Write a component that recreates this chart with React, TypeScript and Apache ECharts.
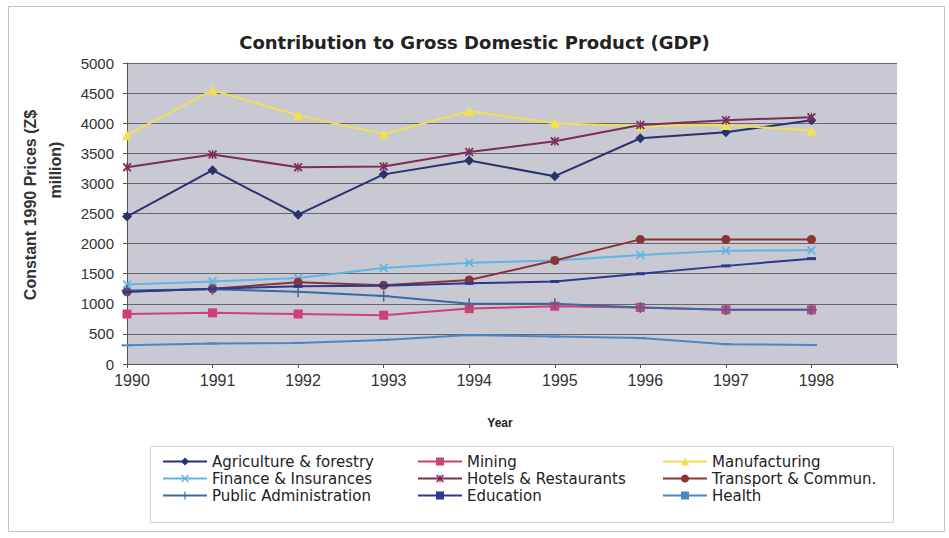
import React, { useEffect, useRef } from "react";
import * as echarts from "echarts";

// Years on the horizontal axis
const years = [1990, 1991, 1992, 1993, 1994, 1995, 1996, 1997, 1998];

// Sector contributions, constant 1990 prices (Z$ million)
const agriculture = [2450, 3220, 2480, 3150, 3380, 3120, 3750, 3850, 4050];
const mining = [830, 850, 830, 810, 920, 960, 940, 900, 900];
const manufacturing = [3800, 4550, 4130, 3820, 4200, 4000, 3950, 3970, 3880];
const finance = [1320, 1370, 1430, 1595, 1680, 1720, 1810, 1880, 1890];
const hotels = [3270, 3480, 3270, 3280, 3520, 3700, 3970, 4050, 4100];
const transport = [1200, 1250, 1360, 1310, 1395, 1720, 2070, 2070, 2070];
const publicAdmin = [1220, 1240, 1200, 1130, 1000, 1000, 940, 900, 900];
const education = [1200, 1250, 1290, 1300, 1340, 1370, 1500, 1630, 1750];
const health = [310, 340, 350, 400, 480, 455, 430, 330, 315];

const yTicks = [0, 500, 1000, 1500, 2000, 2500, 3000, 3500, 4000, 4500, 5000];

const FONT = "'Liberation Sans', Arial, sans-serif";
const WIDE_FONT = "'DejaVu Sans', 'Liberation Sans', sans-serif";

const X_SYMBOL =
  "path://M0,1.4L1.4,0L5,3.6L8.6,0L10,1.4L6.4,5L10,8.6L8.6,10L5,6.4L1.4,10L0,8.6L3.6,5Z";
const STAR_SYMBOL =
  "path://M0,1.4L1.4,0L5,3.6L8.6,0L10,1.4L6.4,5L10,8.6L8.6,10L5,6.4L1.4,10L0,8.6L3.6,5Z M4.3,0L5.7,0L5.7,10L4.3,10Z";
const PLUS_SYMBOL =
  "path://M4.3,0L5.7,0L5.7,4.3L10,4.3L10,5.7L5.7,5.7L5.7,10L4.3,10L4.3,5.7L0,5.7L0,4.3L4.3,4.3Z";

type SeriesDef = {
  name: string;
  values: number[];
  color: string;
  symbol: string;
  symbolSize: number | number[];
};

const seriesDefs: SeriesDef[] = [
  { name: "Agriculture & forestry", values: agriculture, color: "#27336f", symbol: "diamond", symbolSize: 10 },
  { name: "Mining", values: mining, color: "#cf4175", symbol: "rect", symbolSize: 9 },
  { name: "Manufacturing", values: manufacturing, color: "#f0e052", symbol: "triangle", symbolSize: 10 },
  { name: "Finance & Insurances", values: finance, color: "#62b4e6", symbol: X_SYMBOL, symbolSize: 9 },
  { name: "Hotels & Restaurants", values: hotels, color: "#7c2c58", symbol: STAR_SYMBOL, symbolSize: 9 },
  { name: "Transport & Commun.", values: transport, color: "#8b3434", symbol: "circle", symbolSize: 9 },
  { name: "Public Administration", values: publicAdmin, color: "#3c6aa0", symbol: PLUS_SYMBOL, symbolSize: 11 },
  { name: "Education", values: education, color: "#2b3a8e", symbol: "rect", symbolSize: [9, 3] },
  { name: "Health", values: health, color: "#4a86c4", symbol: "rect", symbolSize: [11, 2] },
];

const legendColumns = [
  ["Agriculture & forestry", "Finance & Insurances", "Public Administration"],
  ["Mining", "Hotels & Restaurants", "Education"],
  ["Manufacturing", "Transport & Commun.", "Health"],
];
const legendLefts = [157, 412, 657];

export default function App() {
  const ref = useRef<HTMLDivElement>(null);

  useEffect(() => {
    if (!ref.current) return;
    const chart = echarts.init(ref.current, null, { renderer: "svg" });

    const option = {
      animation: false,
      backgroundColor: "#ffffff",
      title: {
        text: "Contribution to Gross Domestic Product (GDP)",
        left: "center",
        top: 28,
        textStyle: { fontFamily: WIDE_FONT, fontSize: 18, fontWeight: "bold", color: "#222" },
      },
      grid: { left: 127, right: 52, top: 63, bottom: 174, containLabel: false },
      xAxis: {
        type: "value",
        min: 1990,
        max: 1999,
        interval: 1,
        name: "Year",
        nameLocation: "middle",
        nameGap: 53,
        nameTextStyle: { fontFamily: FONT, fontSize: 12, fontWeight: "bold", color: "#222", padding: [0, 24, 0, 0] },
        axisLine: { show: true, lineStyle: { color: "#555", width: 1 } },
        axisTick: { show: true, length: 4, lineStyle: { color: "#555" } },
        splitLine: { show: false },
        axisLabel: {
          fontFamily: FONT,
          fontSize: 16,
          color: "#333",
          margin: 8,
          padding: [0, 0, 0, 10],
          formatter: (v: number) => (years.includes(v) ? String(v) : ""),
        },
      },
      yAxis: {
        type: "value",
        min: yTicks[0],
        max: yTicks[yTicks.length - 1],
        interval: 500,
        axisLine: { show: true, lineStyle: { color: "#555", width: 1 } },
        axisTick: { show: true, length: 4, lineStyle: { color: "#555" } },
        splitLine: { show: true, lineStyle: { color: "#66666c", width: 1 } },
        splitArea: { show: false },
        axisLabel: {
          fontFamily: FONT,
          fontSize: 15,
          color: "#333",
          margin: 13,
          formatter: (v: number) => String(v),
        },
      },
      legend: legendColumns.map((col, i) => ({
        data: col,
        orient: "vertical",
        left: legendLefts[i],
        top: 449,
        itemWidth: 44,
        itemHeight: 10,
        itemGap: 2,
        textStyle: { fontFamily: WIDE_FONT, fontSize: 15, color: "#222", lineHeight: 14 },
      })),
      graphic: [
        {
          type: "rect",
          shape: { x: 127, y: 63, width: 770, height: 301 },
          style: { fill: "#c8c9d3" },
          z: -1,
          silent: true,
        },
        {
          type: "rect",
          shape: { x: 8.5, y: 6.5, width: 936, height: 525 },
          style: { fill: "none", stroke: "#c4c4c4", lineWidth: 1 },
          silent: true,
        },
        {
          type: "rect",
          shape: { x: 150.5, y: 446.5, width: 743, height: 76 },
          style: { fill: "none", stroke: "#d2d2d2", lineWidth: 1 },
          silent: true,
        },
        {
          type: "text",
          x: 30,
          y: 205,
          rotation: Math.PI / 2,
          style: {
            text: "Constant 1990 Prices (Z$",
            fontFamily: FONT,
            fontSize: 16,
            fontWeight: "bold",
            fill: "#333",
            align: "center",
            verticalAlign: "middle",
          },
        },
        {
          type: "text",
          x: 55,
          y: 170,
          rotation: Math.PI / 2,
          style: {
            text: "million)",
            fontFamily: FONT,
            fontSize: 16,
            fontWeight: "bold",
            fill: "#333",
            align: "center",
            verticalAlign: "middle",
          },
        },
      ],
      series: seriesDefs.map((s) => ({
        name: s.name,
        type: "line",
        data: years.map((y, i) => [y, s.values[i]]),
        symbol: s.symbol,
        symbolSize: s.symbolSize,
        showSymbol: true,
        lineStyle: { color: s.color, width: 2 },
        itemStyle: { color: s.color },
        emphasis: { disabled: true },
      })),
    };

    chart.setOption(option as any);
    return () => chart.dispose();
  }, []);

  return (
    <div
      ref={ref}
      style={{ position: "fixed", left: 0, top: 0, width: 949, height: 538 }}
    />
  );
}
